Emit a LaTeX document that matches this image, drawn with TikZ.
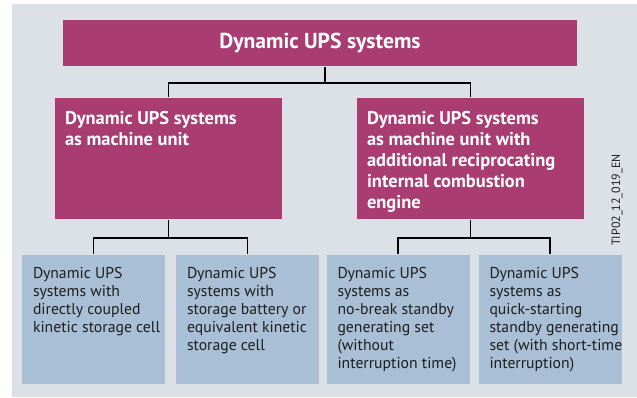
\documentclass[tikz,border=0pt]{standalone}
\usepackage{fontspec}
\setsansfont{PT Sans}
\usetikzlibrary{positioning, calc}
\definecolor{cmagenta}{HTML}{A93C70}
\definecolor{cleaf}{HTML}{A9BFD5}
\definecolor{cbg}{HTML}{DCE1E8}
\definecolor{ctext}{HTML}{1E1E1E}
\tikzset{
  every picture/.style={font=\sffamily, line width=1.1pt},
  topbox/.style={fill=cmagenta, inner sep=0pt, minimum width=10.28cm, minimum height=0.92cm, text=white, font=\sffamily\bfseries\fontsize{12.3}{14}\selectfont},
  headbox/.style={fill=cmagenta, inner sep=0pt, minimum width=4.54cm, minimum height=2.42cm},
  leafbox/.style={fill=cleaf, inner sep=0pt, minimum width=2.86cm, minimum height=2.58cm},
  headtext/.style={anchor=north west, inner sep=0pt, align=left, text=white, font=\sffamily\bfseries\fontsize{10.5}{11.95}\selectfont},
  leaftext/.style={anchor=north west, inner sep=0pt, align=left, text=ctext, font=\sffamily\fontsize{8.95}{10.24}\selectfont},
  link/.style={draw=black, line width=1.1pt},
  code/.style={rotate=90, text=ctext, font=\sffamily\fontsize{6.8}{8}\selectfont},
}

\begin{document}
\begin{tikzpicture}
  \useasboundingbox (0,0) rectangle (12.74,7.94);
  \fill[cbg] (0.24,0) rectangle (12.74,7.86);
  % ---------- top ----------
  \node[topbox] (top) at (6.40,7.08) {Dynamic UPS systems};
  % ---------- second level ----------
  \node[headbox] (ml) at (3.37,4.77) {};
  \node[headbox] (mr) at (9.41,4.77) {};
  \node[headtext] (mltxt) at ([xshift=0.20cm, yshift=-0.26cm]ml.north west) {Dynamic UPS systems\\as machine unit};
  \node[headtext] (mrtxt) at ([xshift=0.20cm, yshift=-0.26cm]mr.north west) {Dynamic UPS systems\\as machine unit with\\additional reciprocating\\internal combustion\\engine};
  \coordinate (tj) at (6.50,6.28);
  \draw[link] (top.south -| tj) -- (tj);
  \draw[link] (ml.north) |- (tj) -| (mr.north);
  % ---------- leaves ----------
  \node[leafbox] (la) at (1.87,1.55) {};
  \node[leafbox] (lb) at (4.95,1.55) {};
  \node[leafbox] (lc) at (7.96,1.55) {};
  \node[leafbox] (ld) at (11.00,1.55) {};
  \node[leaftext] (latxt) at ([xshift=0.22cm, yshift=-0.24cm]la.north west) {Dynamic UPS\\systems with\\directly coupled\\kinetic storage cell};
  \node[leaftext] (lbtxt) at ([xshift=0.22cm, yshift=-0.24cm]lb.north west) {Dynamic UPS\\systems with\\storage battery or\\equivalent kinetic\\storage cell};
  \node[leaftext] (lctxt) at ([xshift=0.22cm, yshift=-0.24cm]lc.north west) {Dynamic UPS\\systems as\\no-break standby\\generating set\\(without\\interruption time)};
  \node[leaftext] (ldtxt) at ([xshift=0.22cm, yshift=-0.24cm]ld.north west) {Dynamic UPS\\systems as\\quick-starting\\standby generating\\set (with short-time\\interruption)};
  \coordinate (lj) at (ml.south |- 0,3.18);
  \coordinate (rj) at (mr.south |- 0,3.18);
  \draw[link] (ml.south) -- (lj);
  \draw[link] (la.north) |- (lj) -| (lb.north);
  \draw[link] (mr.south) -- (rj);
  \draw[link] (lc.north) |- (rj) -| (ld.north);
  \node[code] (tag) at (12.34,3.94) {TIP02\_12\_019\_EN};
\end{tikzpicture}
\end{document}
